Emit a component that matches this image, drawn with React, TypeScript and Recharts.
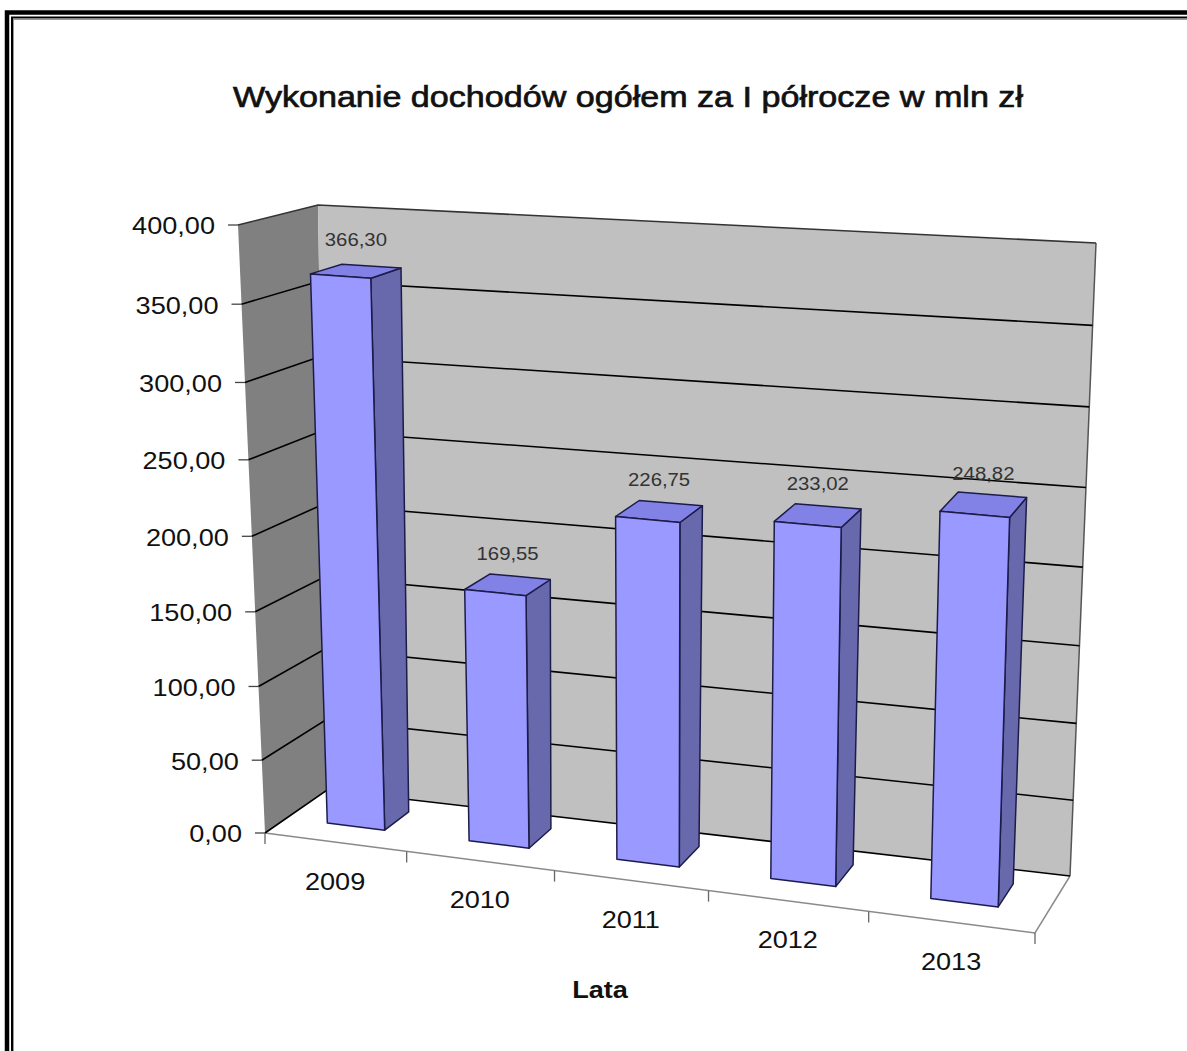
import React from 'react';
import { BarChart, Bar, XAxis, YAxis, CartesianGrid, LabelList } from 'recharts';

const years = ['2009', '2010', '2011', '2012', '2013'];
const values = [366.3, 169.55, 226.75, 233.02, 248.82];
const yTicks = [0, 50, 100, 150, 200, 250, 300, 350, 400];
const title = 'Wykonanie dochodów ogółem za I półrocze w mln zł';
const xTitle = 'Lata';

const data = years.map((y, i) => ({ year: y, value: values[i] }));

// flat plot area (Recharts coordinates)
const W = 1187;
const H = 1051;
const PL = 100;
const PR = 1100;
const PT = 100;
const PB = 1000;

// perspective frame corners (front plane / back wall)
const F00 = [265, 833];
const F01 = [238, 225];
const F10 = [1035, 933];
const F11 = [1054, 289];
const B00 = [327, 790];
const B01 = [318, 205];
const B10 = [1070, 876];
const B11 = [1096, 243];
const WF = 0.35;
const WB = 0.76;
const SX = 1.13;
const FONT = '"Liberation Sans", Arial, sans-serif';

const warpU = (u: number) => u - 0.1 * u * (1 - u);
const warpT = (t: number) => t - 0.048 * t * (1 - t);
const bil = (a: number[], b: number[], c: number[], d: number[], s: number, r: number) => [
  (1 - s) * (1 - r) * a[0] + (1 - s) * r * b[0] + s * (1 - r) * c[0] + s * r * d[0],
  (1 - s) * (1 - r) * a[1] + (1 - s) * r * b[1] + s * (1 - r) * c[1] + s * r * d[1],
];
const P = (u: number, t: number, w: number) => {
  const s = warpU(u);
  const r = warpT(t);
  const f = bil(F00, F01, F10, F11, s, r);
  const b = bil(B00, B01, B10, B11, s, r);
  return [(1 - w) * f[0] + w * b[0], (1 - w) * f[1] + w * b[1]];
};
const fu = (x: number) => (x - PL) / (PR - PL);
const ft = (y: number) => (PB - y) / (PB - PT);
const pts = (arr: number[][]) => arr.map((p) => `${p[0].toFixed(1)},${p[1].toFixed(1)}`).join(' ');
const fmt = (v: number) => Number(v).toFixed(2).replace('.', ',');

const Walls = () => {
  const floor = [P(0, 0, 0), P(1, 0, 0), P(1, 0, 1), P(0, 0, 1)];
  const left = [P(0, 0, 0), P(0, 1, 0), P(0, 1, 1), P(0, 0, 1)];
  const back = [P(0, 0, 1), P(0, 1, 1), P(1, 1, 1), P(1, 0, 1)];
  return (
    <g>
      <polygon points={pts(floor)} fill="#ffffff" />
      <polygon points={pts(left)} fill="#808080" />
      <polygon points={pts(back)} fill="#c0c0c0" />
      <polyline points={pts([P(1, 1, 1), P(1, 0, 1)])} fill="none" stroke="#555" strokeWidth={1.5} />
      <polyline points={pts([P(0, 0, 0), P(1, 0, 0), P(1, 0, 1)])} fill="none" stroke="#8a8a8a" strokeWidth={1.5} />
    </g>
  );
};

const gridLine = (props: any) => {
  const t = ft(props.y1);
  const first = props.index === 0 || (props.index === undefined && t < 0.001);
  return (
    <g key={`g-${props.y1}`}>
      {first ? <Walls /> : null}
      <polyline
        points={pts([P(0, t, 0), P(0, t, 1), P(1, t, 1)])}
        fill="none"
        stroke={t > 0.999 ? '#333' : '#000'}
        strokeWidth={1.6}
      />
    </g>
  );
};

const renderBar = (props: any) => {
  const { x, y, width, height } = props;
  if (width == null || height == null) return null;
  const u0 = fu(x);
  const u1 = fu(x + width);
  const tt = ft(y);
  const tb = ft(y + height);
  const front = [P(u0, tb, WF), P(u1, tb, WF), P(u1, tt, WF), P(u0, tt, WF)];
  const side = [P(u1, tb, WF), P(u1, tb, WB), P(u1, tt, WB), P(u1, tt, WF)];
  const top = [P(u0, tt, WF), P(u1, tt, WF), P(u1, tt, WB), P(u0, tt, WB)];
  const st = { stroke: '#1c1c4a', strokeWidth: 1.5, strokeLinejoin: 'round' as const };
  return (
    <g>
      <polygon points={pts(side)} fill="#6868ad" {...st} />
      <polygon points={pts(top)} fill="#8282e6" {...st} />
      <polygon points={pts(front)} fill="#9999ff" {...st} />
    </g>
  );
};

const renderLabel = (props: any) => {
  const vb = props.viewBox || {};
  const x = props.x ?? vb.x;
  const y = props.y ?? vb.y;
  const width = props.width ?? vb.width;
  if (x == null || y == null) return null;
  const uc = fu(x + width / 2);
  const [px, py] = P(uc, ft(y), (WF + WB) / 2);
  return (
    <text
      transform={`translate(${px.toFixed(1)},${(py - 31).toFixed(1)}) scale(${SX},1)`}
      textAnchor="middle"
      dominantBaseline="central"
      fontSize={18}
      fontFamily={FONT}
      fill="#333"
    >
      {fmt(props.value)}
    </text>
  );
};

const YTick = (props: any) => {
  const { y, payload } = props;
  const [px, py] = P(0, ft(y), 0);
  return (
    <g>
      <line x1={px - 10} y1={py} x2={px} y2={py} stroke="#444" strokeWidth={1.3} />
      <text
        transform={`translate(${(px - 23).toFixed(1)},${(py + 1).toFixed(1)}) scale(${SX},1)`}
        textAnchor="end"
        dominantBaseline="central"
        fontSize={24}
        fontFamily={FONT}
        fill="#111"
      >
        {fmt(payload.value)}
      </text>
    </g>
  );
};

const XTick = (props: any) => {
  const { x, payload, index } = props;
  const u = fu(x);
  const half = 0.5 / years.length;
  const [px, py] = P(u, 0, 0);
  const [rx, ry] = P(u + half, 0, 0);
  const [lx, ly] = P(u - half, 0, 0);
  return (
    <g>
      <line x1={rx} y1={ry} x2={rx} y2={ry + 11} stroke="#666" strokeWidth={1.3} />
      {index === 0 ? <line x1={lx} y1={ly} x2={lx} y2={ly + 11} stroke="#666" strokeWidth={1.3} /> : null}
      <text
        transform={`translate(${px.toFixed(1)},${(py + 39).toFixed(1)}) scale(${SX},1)`}
        textAnchor="middle"
        dominantBaseline="central"
        fontSize={24}
        fontFamily={FONT}
        fill="#111"
      >
        {payload.value}
      </text>
    </g>
  );
};

export default function App() {
  return (
    <div style={{ position: 'fixed', left: 0, top: 0, width: W, height: H, background: '#fff', overflow: 'hidden' }}>
      <svg width={W} height={H} style={{ position: 'absolute', left: 0, top: 0 }}>
        <rect x={7} y={12.5} width={1300} height={1200} fill="none" stroke="#000" strokeWidth={4.5} />
        <rect x={12} y={17.5} width={1300} height={1200} fill="none" stroke="#000" strokeWidth={2} />
        <rect x={13.5} y={19.5} width={1300} height={1200} fill="none" stroke="#999" strokeWidth={1} />
        <text
          x={628}
          y={107}
          textAnchor="middle"
          fontSize={30}
          fontFamily={FONT}
          fill="#111"
          stroke="#111"
          strokeWidth={0.7}
          textLength={790}
          lengthAdjust="spacingAndGlyphs"
        >
          {title}
        </text>
        <text
          transform={`translate(600,998) scale(${SX},1)`}
          textAnchor="middle"
          fontSize={24}
          fontWeight="bold"
          fontFamily={FONT}
          fill="#111"
        >
          {xTitle}
        </text>
      </svg>
      <div style={{ position: 'absolute', left: 0, top: 0 }}>
        <BarChart
          width={W}
          height={H}
          data={data}
          margin={{ top: PT, right: W - PR, left: 0, bottom: H - PB - 50 }}
          barCategoryGap="29.5%"
        >
          <CartesianGrid vertical={false} horizontal={gridLine} />
          <XAxis dataKey="year" height={50} axisLine={false} tickLine={false} interval={0} tick={<XTick />} />
          <YAxis
            width={PL}
            domain={[0, 400]}
            ticks={yTicks}
            interval={0}
            axisLine={false}
            tickLine={false}
            tick={<YTick />}
          />
          <Bar dataKey="value" isAnimationActive={false} shape={renderBar}>
            <LabelList dataKey="value" content={renderLabel} />
          </Bar>
        </BarChart>
      </div>
    </div>
  );
}
